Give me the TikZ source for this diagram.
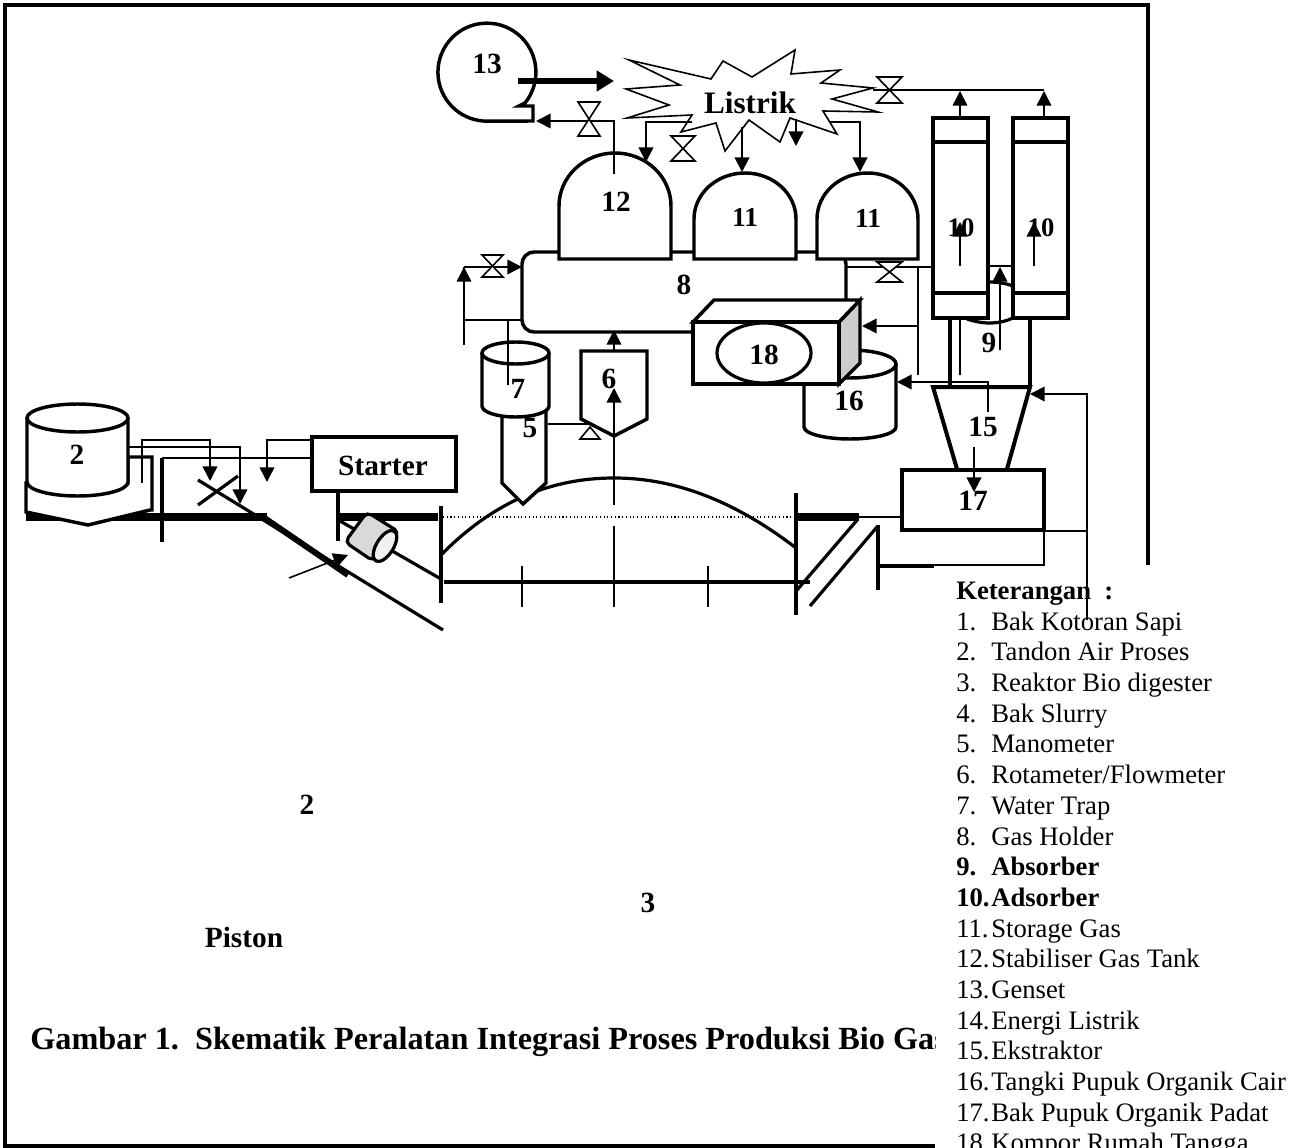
\documentclass[tikz,border=0pt]{standalone}
\usepackage{fontspec}
\setmainfont{Liberation Serif}
\usetikzlibrary{arrows.meta}
\tikzset{
 thin1/.style={line width=1.2pt},
 mid2/.style={line width=1.6pt},
 thk3/.style={line width=2.4pt},
 thk4/.style={line width=3pt},
 vessel/.style={line width=2.6pt,fill=white,line join=miter},
 arr/.style={-{Triangle[length=11pt,width=11pt]}},
 valve/.style={line width=1.2pt,fill=white,line join=miter},
 lab/.style={font=\fontsize{22}{24}\selectfont\bfseries,inner sep=0pt},
 leg/.style={font=\fontsize{20}{22}\selectfont,inner sep=0pt,anchor=base west},
 legb/.style={font=\fontsize{20}{22}\selectfont\bfseries,inner sep=0pt,anchor=base west},
}
\begin{document}
\begin{tikzpicture}[x=0.75pt,y=-0.75pt]
\useasboundingbox (0,0) rectangle (1306,1148);
\clip (0,0) rectangle (1306,1148);
\fill[white] (0,0) rectangle (1306,1148);
% frame
\draw[line width=3.2pt] (5,1146) -- (5,5) -- (1148,5) -- (1148,565);
\draw[line width=3.2pt] (3,1146) -- (935,1146);

% ---- left: tank 2, bars
\draw[line width=5.5pt] (26,517) -- (267,517);
\draw[vessel] (26,483) -- (26,512) -- (88,525) -- (150,510) -- (152,510) -- (152,457) -- (128,457) -- (128,483) -- cycle;
\draw[vessel] (27,418) -- (27,482) arc [start angle=180,end angle=0,x radius=50.5,y radius=14] -- (128,418);
\draw[vessel] (77.5,418) ellipse [x radius=50.5,y radius=14];
\draw[thk3] (162,542) -- (162,458);
\draw[thin1] (162,458) -- (312,458);
\draw[thin1,arr] (128,447) -- (240,447) -- (240,504);
\draw[thin1,arr] (142,483) -- (142,440) -- (210,440) -- (210,481);
\draw[thin1,arr] (312,440) -- (267,440) -- (267,482);
\draw[thk3] (198,480) -- (443,630);
\draw[line width=4.5pt] (263,517) -- (348,575);
\draw[thk3] (198,505) -- (238,476);
\draw[thin1,arr] (289,578) -- (348,555);
% starter
\draw[vessel] (312,437) rectangle (456,491);
\draw[thk3] (338,491) -- (338,541);
\draw[line width=5.5pt] (338,517) -- (438,517);
\draw[thk3] (340,521) -- (441,579);
% motor
\draw[line width=2.4pt,fill=black!15,rounded corners=4pt] (367,512) -- (399,532) -- (373,561) -- (345,542) -- cycle;
\draw[line width=2.4pt,fill=black!6,shift={(385,546)},rotate=-32] (0,0) ellipse [x radius=8.5,y radius=17.5];

% ---- digester
\draw[line width=0.8pt,dotted] (443,517) -- (795,517);
\draw[thk3] (441,555) .. controls (500,495) and (560,478) .. (614,478) .. controls (680,478) and (740,505) .. (796,548);
\draw[thk3] (444,582) -- (810,582);
\draw[thin1] (522,566) -- (522,607);
\draw[thin1] (708,566) -- (708,607);
\draw[thin1] (614,526) -- (614,607);
\draw[line width=3pt] (441,506) -- (441,603);
\draw[line width=3pt] (796,493) -- (796,615);
\draw[line width=5.5pt] (797,517) -- (859,517);
\draw[thk3] (858,519) -- (797,590);
\draw[thk3] (877,527) -- (810,606);
\draw[thk3] (878,525) -- (878,590);
\draw[line width=3pt] (878,566) -- (934,566);
\draw[mid2] (934,565) -- (1044,565) -- (1044,530);
\draw[thin1] (859,517) -- (902,517);

% ---- trap 7, manometer 5, flow 6
\draw[thin1] (464,345) -- (464,267);
\draw[thin1] (464,320) -- (522,320);
\draw[vessel] (502,410) -- (502,483) -- (523,504) -- (546,483) -- (546,410) -- cycle;
\draw[vessel] (482,353) -- (482,406) arc [start angle=180,end angle=0,x radius=33.5,y radius=11] -- (549,353);
\draw[vessel] (515.5,353) ellipse [x radius=33.5,y radius=11];
\draw[thin1] (508,320) -- (508,385);
\draw[vessel] (581,351) -- (581,419) -- (614,436) -- (647,419) -- (647,351) -- cycle;
\draw[thin1,arr] (614,505) -- (614,388);
\draw[thin1] (548,424) -- (590,424);
\draw[valve] (590,427) -- (600,439) -- (580,439) -- cycle;
\draw[thin1,arr] (614,351) -- (614,330);

% ---- 16 cylinder
\draw[vessel] (804,364) -- (804,427) arc [start angle=180,end angle=0,x radius=46,y radius=12] -- (896,364);
\draw[vessel] (850,364) ellipse [x radius=46,y radius=14];

% ---- gas holder 8
\draw[vessel,rounded corners=9pt] (522,252) rectangle (846,332);
% box 18
\draw[vessel,fill=black!20] (839,322) -- (860,300) -- (860,363) -- (839,384) -- cycle;
\draw[vessel] (693,322) -- (714,300) -- (860,300) -- (839,322) -- cycle;
\draw[vessel] (693,322) rectangle (839,384);
\draw[thk3,fill=white] (764,353) ellipse [x radius=47,y radius=30];

% ---- domes
\draw[vessel] (559,259) -- (559,206) arc [start angle=180,end angle=360,x radius=56,y radius=53] -- (671,259) -- cycle;
\draw[vessel] (694,259) -- (694,219) arc [start angle=180,end angle=360,x radius=51,y radius=46] -- (796,259) -- cycle;
\draw[vessel] (817,259) -- (817,219) arc [start angle=180,end angle=360,x radius=50.5,y radius=46] -- (918,259) -- cycle;

% ---- genset
\draw[vessel] (525,103) arc [start angle=39,end angle=-270,x radius=49,y radius=49] -- (533,121) -- (533,106) -- (519,106) -- cycle;
\draw[line width=4pt,-{Triangle[length=13pt,width=15pt]}] (518,81) -- (614,81);

% ---- burst
\draw[thin1,fill=white,line join=miter] (629,60) -- (711,79) -- (723,61) -- (752,77) -- (795,50) -- (791,74) -- (840,70) -- (821,83) -- (873,88) -- (832,99) -- (878,112) -- (823,111) -- (837,134) -- (790,118) -- (780,142) -- (749,120) -- (725,151) -- (716,123) -- (681,132) -- (692,115) -- (627,118) -- (669,105) -- (626,89) -- (680,85) -- cycle;

% ---- connectors top
\draw[thin1,arr] (614,174) -- (614,121) -- (536,121);
\draw[valve] (578,102) -- (600,102) -- (578,136) -- (600,136) -- cycle;
\draw[mid2,arr] (692,122) -- (646,122) -- (646,162);
\draw[valve] (671,136) -- (695,136) -- (671,161) -- (695,161) -- cycle;
\draw[mid2,arr] (742,127) -- (742,172);
\draw[mid2,arr] (796,119) -- (796,146);
\draw[mid2,arr] (830,122) -- (860,122) -- (860,172);
\draw[thin1,arr] (464,345) -- (464,267);
\draw[thin1,arr] (464,267) -- (522,267);
\draw[valve] (482,255) -- (503,255) -- (482,277) -- (503,277) -- cycle;

% ---- columns 9 / 10
\draw[thk3,fill=white] (967,319) .. controls (985,325) and (1000,324) .. (1013,318);
\draw[thk3] (989,282) .. controls (996,282) and (1005,283) .. (1013,286);
\draw[thk4] (950,318) -- (950,387);
\draw[thk4] (1030,318) -- (1030,387);
\draw[thin1] (960,318) -- (960,375);
\draw[thk4,fill=white] (933,118) rectangle (988,318);
\draw[thk4] (933,142) -- (988,142);
\draw[thk4] (933,293) -- (988,293);
\draw[thk4,fill=white] (1013,118) rectangle (1068,318);
\draw[thk4] (1013,142) -- (1068,142);
\draw[thk4] (1013,293) -- (1068,293);
\draw[thin1] (846,267) -- (933,267);
\draw[thin1] (918,267) -- (918,375);
\draw[thin1,arr] (918,326) -- (862,326);
\draw[thin1] (989,266) -- (1012,266);
\draw[thin1,arr] (1000,350) -- (1000,267);
\draw[valve] (877,262) -- (902,262) -- (877,282) -- (902,282) -- cycle;
\draw[thin1] (873,90) -- (1044,90);
\draw[valve] (877,77) -- (902,77) -- (877,103) -- (902,103) -- cycle;
\draw[thin1,arr] (960,118) -- (960,91);
\draw[thin1,arr] (1044,118) -- (1044,91);

% ---- 15 / 17
\draw[thk4,line join=miter,fill=white] (957,469) -- (933,387) -- (1030,387) -- (1007,469);
\draw[thin1,arr] (988,412) -- (988,382) -- (897,382);
\draw[thk4,fill=white] (902,470) rectangle (1044,530);

% ---- legend background
\fill[white] (935,567) rectangle (1306,1148);

\draw[thin1] (1044,531) -- (1087,531);

% ---- labels
\node[lab] (n13) at (487,64) {13};
\node[lab] (nlis) at (750,103) {\fontsize{23.4}{26}\selectfont Listrik};
\node[lab] (n12) at (616,202) {12};
\node[lab,font=\fontsize{20.5}{24}\selectfont\bfseries] (n11a) at (745,217) {11};
\node[lab,font=\fontsize{20.5}{24}\selectfont\bfseries] (n11b) at (868,218) {11};
\node[lab] (n10a) at (961,228) {\fontsize{20}{24}\selectfont 10};
\node[lab] (n10b) at (1041,228) {\fontsize{20}{24}\selectfont 10};
\node[lab] (n8) at (684,285) {8};
\node[lab] (n18) at (764,355) {18};
\node[lab] (n9) at (989,343) {9};
\node[lab] (n16) at (849,401) {16};
\node[lab] (n15) at (983,427) {15};
\node[lab] (n17) at (973,501) {17};
\node[lab] (n7) at (518,389) {7};
\node[lab] (n6) at (609,379) {6};
\node[lab] (n5) at (530,428) {5};
\node[lab] (n2a) at (77,455) {2};
\node[lab] (nst) at (383,466) {Starter};
\node[lab] (n2b) at (307,805) {2};
\node[lab] (n3) at (648,903) {3};
\node[lab] (npis) at (244,937) {Piston};

% arrows drawn over the labels
\draw[thin1,arr] (960,266) -- (960,222);
\draw[thin1,arr] (1034,266) -- (1034,222);
\draw[mid2,arr] (974,447) -- (974,492);
\draw[thin1,arr] (1087,620) -- (1087,394) -- (1030,394);

\begin{scope}
\clip (0,1000) rectangle (935,1100);
\node[lab,anchor=base west] (ntitle) at (30,1049) {\fontsize{24.2}{26}\selectfont Gambar 1.\ \ Skematik Peralatan Integrasi Proses Produksi Bio Gas};
\end{scope}

% ---- legend
\node[legb] (k0) at (956,599) {Keterangan\ \ :};
\node[leg] (k1n) at (956,630) {1.}; \node[leg] (k1) at (991,630) {Bak Kotoran Sapi};
\node[leg] (k2n) at (956,660) {2.}; \node[leg] (k2) at (991,660) {Tandon Air Proses};
\node[leg] (k3n) at (956,691) {3.}; \node[leg] (k3) at (991,691) {Reaktor Bio digester};
\node[leg] (k4n) at (956,722) {4.}; \node[leg] (k4) at (991,722) {Bak Slurry};
\node[leg] (k5n) at (956,752) {5.}; \node[leg] (k5) at (991,752) {Manometer};
\node[leg] (k6n) at (956,783) {6.}; \node[leg] (k6) at (991,783) {Rotameter/Flowmeter};
\node[leg] (k7n) at (956,814) {7.}; \node[leg] (k7) at (991,814) {Water Trap};
\node[leg] (k8n) at (956,845) {8.}; \node[leg] (k8) at (991,845) {Gas Holder};
\node[legb] (k9n) at (956,875) {9.}; \node[legb] (k9) at (991,875) {Absorber};
\node[legb] (k10n) at (956,906) {10.}; \node[legb] (k10) at (991,906) {Adsorber};
\node[leg] (k11n) at (956,937) {11.}; \node[leg] (k11) at (991,937) {Storage Gas};
\node[leg] (k12n) at (956,967) {12.}; \node[leg] (k12) at (991,967) {Stabiliser Gas Tank};
\node[leg] (k13n) at (956,998) {13.}; \node[leg] (k13) at (991,998) {Genset};
\node[leg] (k14n) at (956,1029) {14.}; \node[leg] (k14) at (991,1029) {Energi Listrik};
\node[leg] (k15n) at (956,1059) {15.}; \node[leg] (k15) at (991,1059) {Ekstraktor};
\node[leg] (k16n) at (956,1090) {16.}; \node[leg] (k16) at (991,1090) {Tangki Pupuk Organik Cair};
\node[leg] (k17n) at (956,1121) {17.}; \node[leg] (k17) at (991,1121) {Bak Pupuk Organik Padat};
\node[leg] (k18n) at (956,1151) {18.}; \node[leg] (k18) at (991,1151) {Kompor Rumah Tangga};
\end{tikzpicture}
\end{document}
